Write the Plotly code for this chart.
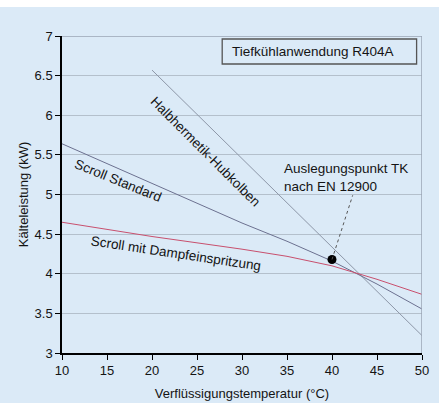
import plotly.graph_objects as go

# ---- data ----
temps = [10, 15, 20, 25, 30, 35, 40, 45, 50]
halbhermetik_t = [20, 25, 30, 35, 40, 45, 50]
halbhermetik = [6.57, 6.01, 5.45, 4.90, 4.34, 3.78, 3.22]
scroll_standard = [5.64, 5.39, 5.14, 4.89, 4.64, 4.41, 4.16, 3.87, 3.555]
scroll_dampf = [4.65, 4.56, 4.47, 4.39, 4.31, 4.22, 4.10, 3.93, 3.74]
design_point_t = [40]
design_point_q = [4.18]
x_ticks = [10, 15, 20, 25, 30, 35, 40, 45, 50]
y_ticks = [3, 3.5, 4, 4.5, 5, 5.5, 6, 6.5, 7]

BG = "#dbeaf7"
FONT = "Arial, Liberation Sans, sans-serif"
TXT = "#141414"

fig = go.Figure()
fig.add_trace(go.Scatter(x=halbhermetik_t, y=halbhermetik, mode="lines",
                         line=dict(color="#8d97a8", width=1), hoverinfo="skip"))
fig.add_trace(go.Scatter(x=temps, y=scroll_standard, mode="lines",
                         line=dict(color="#6c7190", width=1), hoverinfo="skip"))
fig.add_trace(go.Scatter(x=temps, y=scroll_dampf, mode="lines",
                         line=dict(color="#c8506e", width=1), hoverinfo="skip"))
fig.add_trace(go.Scatter(x=design_point_t, y=design_point_q, mode="markers",
                         marker=dict(color="black", size=9), hoverinfo="skip"))

shapes = [
    # top and right frame
    dict(type="line", xref="x", yref="y", x0=10, x1=50, y0=7, y1=7,
         line=dict(color="#9aa5b5", width=1.5)),
    dict(type="line", xref="x", yref="y", x0=50, x1=50, y0=3, y1=7,
         line=dict(color="#9aa5b5", width=1.5)),
    # legend-like box
    dict(type="rect", xref="x", yref="y", x0=27.8, x1=49.4, y0=6.647, y1=6.962,
         line=dict(color="#555555", width=1.3), fillcolor=BG),
    # leader line
    dict(type="line", xref="x", yref="y", x0=design_point_t[0], y0=design_point_q[0],
         x1=42.3, y1=4.99, line=dict(color="#555555", width=1, dash="dot")),
]

annotations = [
    dict(x=28.7, y=6.80, xref="x", yref="y", text="Tiefkühlanwendung R404A",
         showarrow=False, xanchor="left", yanchor="middle", font=dict(size=13.5, color=TXT)),
    dict(x=34.44, y=5.22, xref="x", yref="y", text="Auslegungspunkt TK<br>nach EN 12900",
         showarrow=False, xanchor="left", yanchor="middle", align="left",
         font=dict(size=13.5, color=TXT)),
    dict(x=25.9, y=5.54, xref="x", yref="y", text="Halbhermetik-Hubkolben",
         showarrow=False, textangle=45, font=dict(size=13.5, color=TXT)),
    dict(x=16.2, y=5.18, xref="x", yref="y", text="Scroll Standard",
         showarrow=False, textangle=22, font=dict(size=13.5, color=TXT)),
    dict(x=22.7, y=4.25, xref="x", yref="y", text="Scroll mit Dampfeinspritzung",
         showarrow=False, textangle=8.5, font=dict(size=13.5, color=TXT)),
]

fig.update_layout(
    width=439, height=396,
    margin=dict(l=62, r=17, t=29, b=50),
    paper_bgcolor=BG, plot_bgcolor=BG,
    showlegend=False,
    font=dict(family=FONT, size=13, color=TXT),
    shapes=shapes, annotations=annotations,
    xaxis=dict(range=[10, 50], tickvals=x_ticks, ticks="outside", ticklen=5,
               tickcolor="black", showline=True, linecolor="black", linewidth=1.5,
               showgrid=False, zeroline=False, automargin=False,
               title=dict(text="Verflüssigungstemperatur (°C)", standoff=12,
                          font=dict(size=13))),
    yaxis=dict(range=[3, 7], tickvals=y_ticks, ticks="outside", ticklen=5,
               tickcolor="black", showline=True, linecolor="black", linewidth=1.5,
               showgrid=True, gridcolor="#b4c0cc", gridwidth=1, zeroline=False,
               automargin=False,
               title=dict(text="Kälteleistung (kW)", standoff=3, font=dict(size=13))),
)

fig.write_html("out.html", config={"displayModeBar": False},
               post_script="document.body.style.margin='0';"
                           "document.body.style.padding='7px 0 0 0';"
                           "document.body.style.background='white';"
                           "document.body.style.overflow='hidden';")
